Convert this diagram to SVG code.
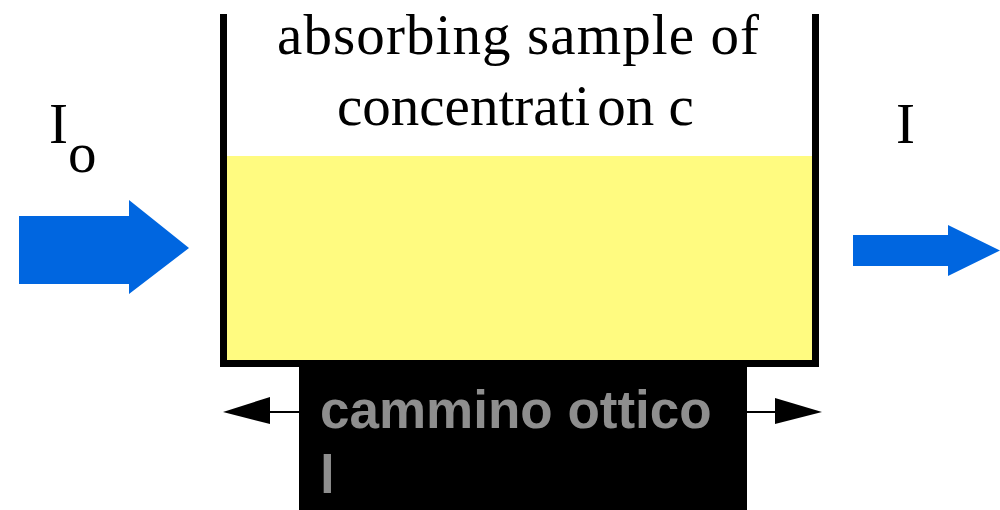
<svg xmlns="http://www.w3.org/2000/svg" width="1000" height="510" viewBox="0 0 1000 510">
<style>
.serif{font-family:"Liberation Serif","Times New Roman",serif;fill:#000;font-size:57px}
.gray{font-family:"Liberation Sans",Arial,sans-serif;font-weight:bold;fill:#8e8e8e;font-size:53px}
.beam{fill:#0066e0}
.dim{stroke:#000;stroke-width:2;fill:none}
.head{fill:#000}
</style>
<rect width="1000" height="510" fill="#fff"/>
<g id="beaker">
<rect x="227" y="156" width="585" height="204" fill="#fffb80"/>
<path d="M223.5 14 V363.5 H815.5 V14" fill="none" stroke="#000" stroke-width="7"/>
<text class="serif" x="277" y="54" textLength="482" lengthAdjust="spacing">absorbing sample of</text>
<text class="serif" x="337" y="125">concentrati<tspan dx="7">on c</tspan></text>
</g>
<g id="pathlength">
<rect x="299" y="363" width="448" height="147" fill="#000"/>
<text class="gray" x="320" y="428">cammino ottico</text>
<text class="gray" x="320" y="493">l</text>
</g>
<g id="incident">
<polygon class="beam" points="19,216 129,216 129,200 189,248 129,294 129,284 19,284"/>
<text class="serif" x="49" y="143">I<tspan dy="29">o</tspan></text>
</g>
<g id="transmitted">
<polygon class="beam" points="853,235 948,235 948,225 1000,250.5 948,276 948,266 853,266"/>
<text class="serif" x="896" y="143">I</text>
</g>
<g id="connectors">
<line class="dim" x1="230" y1="412" x2="299" y2="412"/>
<polygon class="head" points="223,412 270,397 270,424"/>
<line class="dim" x1="747" y1="412" x2="815" y2="412"/>
<polygon class="head" points="822,412 775,398 775,424"/>
</g>
</svg>
